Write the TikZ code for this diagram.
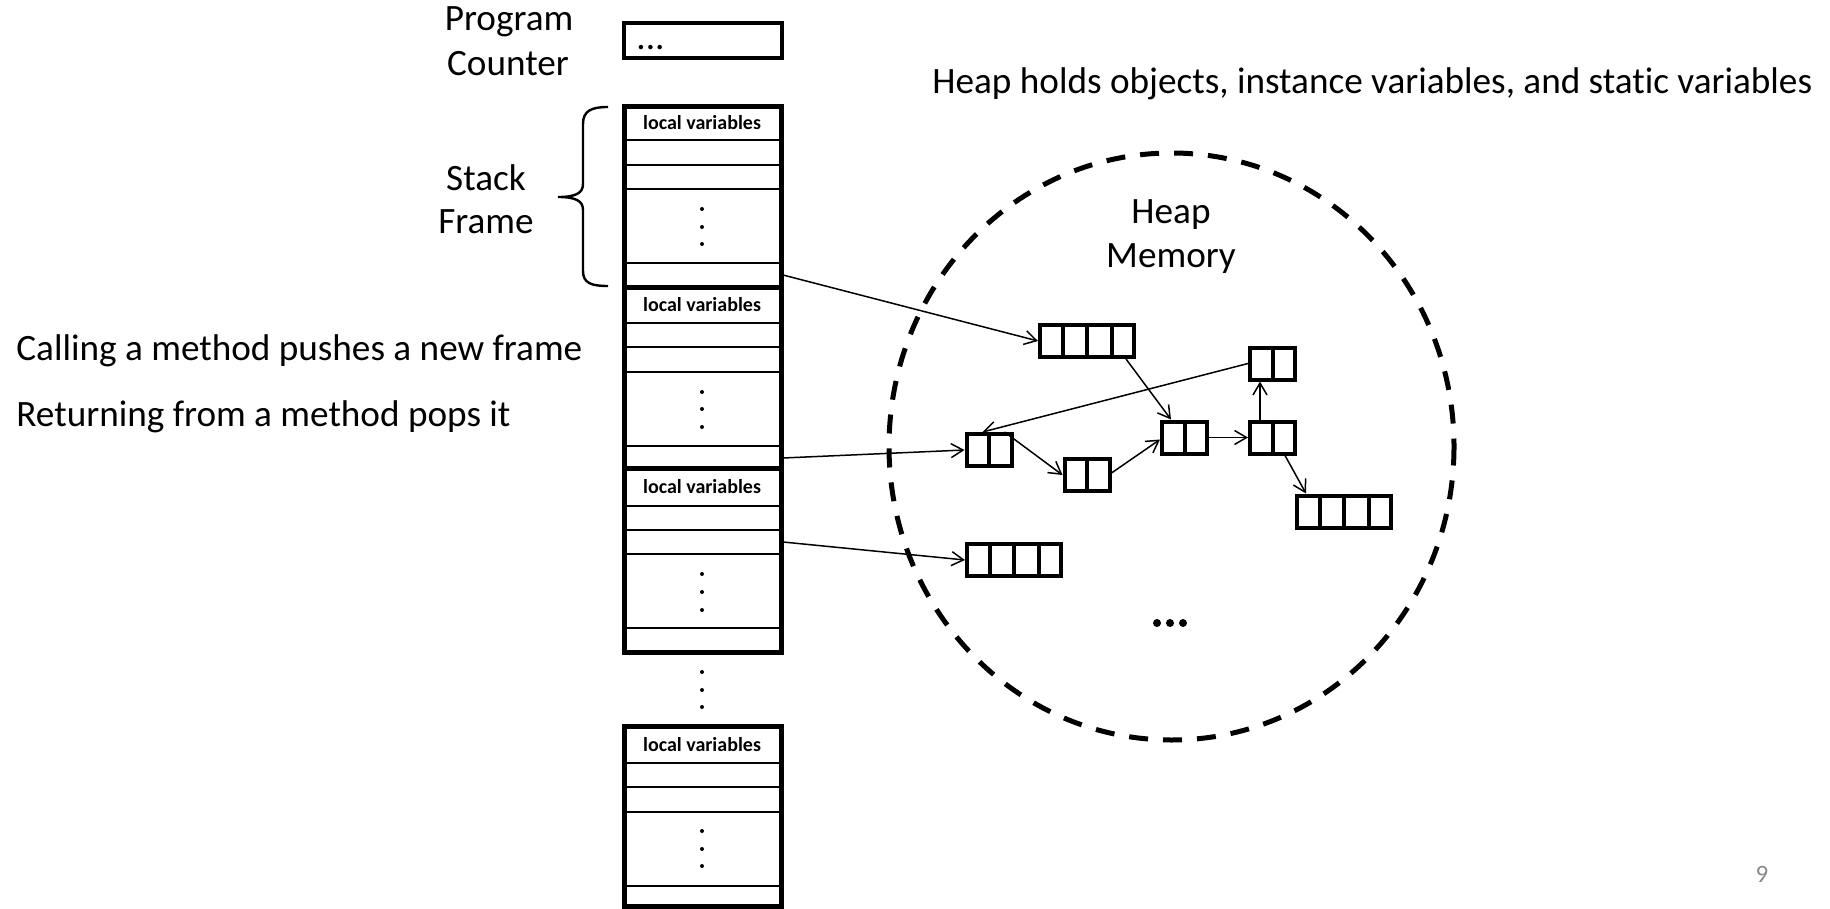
\documentclass[tikz,border=0pt]{standalone}
\usepackage{fontspec}
\setmainfont{Carlito}[Ligatures=NoCommon]
\usetikzlibrary{arrows.meta,calc}
\definecolor{pagenum}{RGB}{137,137,137}
\begin{document}
\begin{tikzpicture}[x=0.5pt,y=-0.5pt,
  lbl/.style={font=\fontsize{18.6}{22}\selectfont, inner sep=0pt},
  lv/.style={font=\fontsize{10}{12}\selectfont\bfseries, inner sep=0pt},
  heavy/.style={line width=2.5pt},
  rowline/.style={line width=1pt},
  obj/.style={draw, line width=2pt, minimum height=16pt, inner sep=0pt},
  objtwo/.style={obj, minimum width=22.5pt},
  objfour/.style={obj, minimum width=47pt},
  divider/.style={line width=2pt},
  ptr/.style={line width=0.75pt, -{Straight Barb[length=6pt,width=7pt]}},
  heapline/.style={line width=2.5pt, dash pattern=on 9.5pt off 7.5pt}]
\useasboundingbox (0,0) rectangle (1830,909);

% ---------- texts on the left ----------
\node[lbl, anchor=base] (prog) at (509,31) {Program};
\node[lbl, anchor=base] (counter) at (508,76) {Counter};
\node[lbl, anchor=base] (stk) at (486,191) {Stack};
\node[lbl, anchor=base] (frm) at (486,234) {Frame};
\node[lbl, anchor=base west] (calling) at (16,360) {Calling a method pushes a new frame};
\node[lbl, anchor=base west] (returning) at (16,426) {Returning from a method pops it};
\node[lbl, anchor=base west] (title) at (932,94) {Heap holds objects, instance variables, and static variables};
\node[lbl, anchor=base, text=pagenum, font=\fontsize{12.5}{15}\selectfont] (pagenr) at (1762,882) {9};

% ---------- program counter ----------
\node[draw, line width=2pt, minimum width=79pt, minimum height=17.5pt, inner sep=0pt] (pc) at (702.5,40.5) {};
\node[lbl, anchor=base west] (pcdots) at (636,50) {...};

% ---------- stack ----------
\foreach \y in {140,165,189,263} \draw[rowline] (624,\y) -- (781,\y);
\foreach \y in {323,347,372,446} \draw[rowline] (624,\y) -- (781,\y);
\foreach \y in {506,530,554,628} \draw[rowline] (624,\y) -- (781,\y);
\foreach \y in {763,787,812,886} \draw[rowline] (624,\y) -- (781,\y);
\draw[heavy] (624,107) rectangle (781,652);
\draw[heavy] (624,287) -- (781,287);
\draw[heavy] (624,468) -- (781,468);
\draw[heavy] (624,726) rectangle (781,906);

\node[lv] (lv1) at (702,123) {local variables};
\node[lv] (lv2) at (702,305) {local variables};
\node[lv] (lv3) at (702,487) {local variables};
\node[lv] (lv4) at (702,745) {local variables};

\foreach \y in {209,227,244, 392,409,427, 574,592,610, 672,690,707, 831,849,866}
  \fill (702,\y) circle[radius=2];

% brace
\draw[line width=1.2pt] (608,107) .. controls (591,107) and (583,111) .. (583,124)
  -- (583,184) .. controls (583,193) and (576,197) .. (558,197)
  .. controls (576,197) and (583,201) .. (583,210)
  -- (583,271) .. controls (583,283) and (591,286) .. (608,286);

% pointer sources in the stack
\coordinate (s1) at (783,275);
\coordinate (s2) at (783,458);
\coordinate (s3) at (783,542);

% ---------- heap ----------
\draw[heapline] (1171.5,446.5) ellipse [x radius=282.5, y radius=293.5];
\node[lbl, anchor=base] (heapw) at (1171,224) {Heap};
\node[lbl, anchor=base] (memw) at (1171,268) {Memory};
\foreach \x in {1157,1170,1183} \fill (\x,623) circle[radius=4];

\node[objfour] (A) at (1087,341) {};
\node[objtwo]  (B) at (1272.5,363.5) {};
\node[objtwo]  (C) at (989,450) {};
\node[objtwo]  (D) at (1087,475) {};
\node[objtwo]  (E) at (1184.5,437.5) {};
\node[objtwo]  (F) at (1272.5,437.5) {};
\node[objfour] (G) at (1344,511.5) {};
\node[objfour] (H) at (1014,560) {};

\foreach \n in {B,C,D,E,F} \draw[divider] (\n.north) -- (\n.south);
\foreach \n in {A,G,H} \foreach \f in {0.25,0.5,0.75}
  \draw[divider] ($(\n.north west)!\f!(\n.north east)$) -- ($(\n.south west)!\f!(\n.south east)$);

% ---------- pointers ----------
\draw[ptr] (s1) -- (A.west);
\draw[ptr] (s2) -- (C.west);
\draw[ptr] (s3) -- (H.west);
\draw[ptr] ($(A.south east)+(-10,0)$) -- ($(E.north west)+(11,0)$);
\draw[ptr] (B.west) -- ($(C.north west)+(18,0)$);
\draw[ptr] ($(C.north east)+(-9,0)$) -- (D.west);
\draw[ptr] ($(D.east)+(0,-2)$) -- ($(E.west)+(0,2)$);
\draw[ptr] (E.east) -- (F.west);
\draw[ptr] ($(F.north west)+(12,0)$) -- ($(B.south west)+(12,0)$);
\draw[ptr] ($(F.south east)+(-12,0)$) -- ($(G.north west)+(11,0)$);
\end{tikzpicture}
\end{document}
